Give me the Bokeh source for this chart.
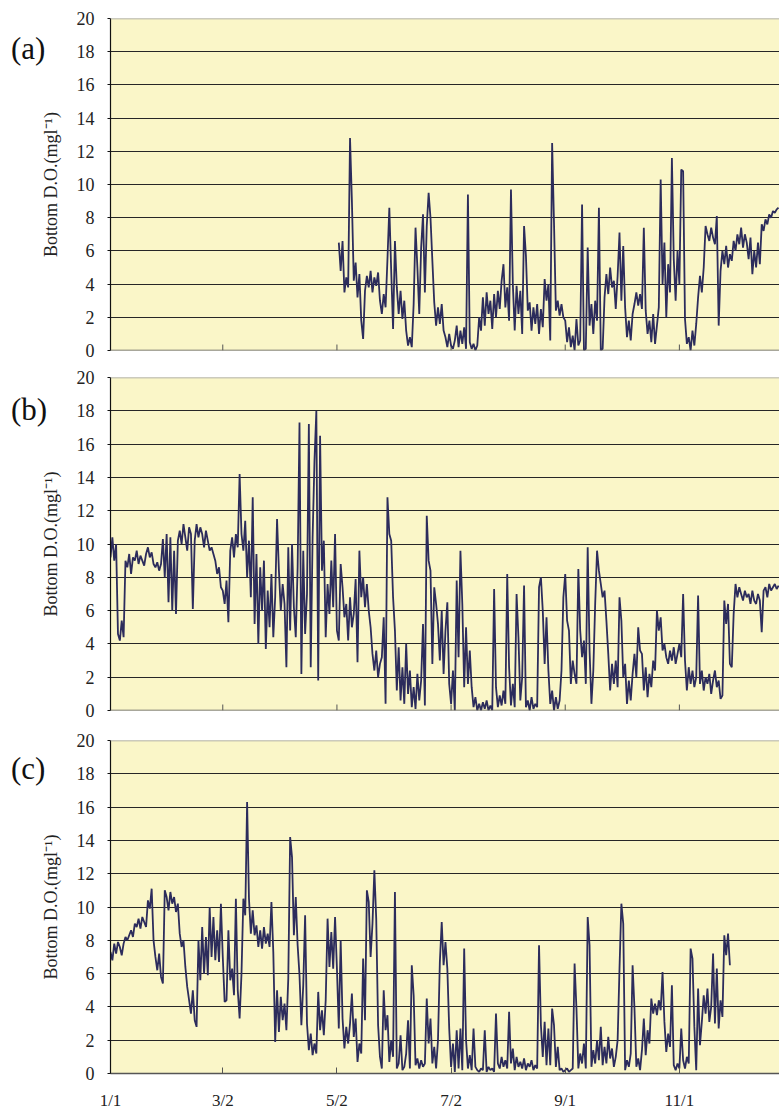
from bokeh.plotting import figure
from bokeh.layouts import column, row
from bokeh.models import FixedTicker, Span, Range1d, Div
from bokeh.embed import file_html
from bokeh.resources import INLINE

# ---- data (day of year, 0 = 1 Jan) ----
tick_days = [0, 60, 121, 182, 243, 304]
tick_labels = ["1/1", "3/2", "5/2", "7/2", "9/1", "11/1"]
y_ticks = [0, 2, 4, 6, 8, 10, 12, 14, 16, 18, 20]
panel_names = ["(a)", "(b)", "(c)"]
y_label = "Bottom D.O.(mgl\u207b\u00b9)"

start_a = 122
do_a = [
    6.5, 4.8, 6.6, 3.5, 4.4, 3.8, 12.8, 9.0, 4.2, 5.3,
    3.2, 4.6, 1.8, 0.7, 3.6, 4.5, 3.8, 4.8, 3.5, 4.4,
    3.9, 4.7, 3.0, 2.2, 3.4, 2.6, 5.5, 8.6, 4.8, 1.3,
    6.6, 3.8, 2.2, 3.6, 1.9, 3.0, 1.2, 0.3, 0.8, 0.2,
    2.8, 7.4, 5.0, 2.2, 6.2, 8.2, 3.5, 7.5, 9.5, 8.0,
    5.4, 2.9, 1.5, 2.6, 1.6, 2.8, 1.2, 0.8, 0.2, 1.0,
    0.3, 0.1, 0.6, 1.5, 0.2, 1.2, 0.4, 1.4, 0.1, 9.4,
    0.5, 0.1, 0.4, 0.0, 0.3, 2.0, 1.2, 3.2, 1.5, 3.5,
    2.2, 3.0, 1.3, 3.4, 2.0, 3.6, 2.5, 4.2, 5.2, 2.6,
    3.8, 1.8, 9.7, 4.0, 1.2, 3.9, 2.2, 3.6, 1.0, 7.5,
    5.7, 2.4, 2.9, 1.2, 2.6, 1.6, 2.8, 1.0, 2.5, 1.4,
    4.3, 3.0, 4.0, 0.6, 12.5, 7.7, 2.4, 3.0, 2.1, 2.8,
    2.0, 1.8, 0.5, 1.4, 0.2, 0.9, 0.0, 1.9, 0.3, 0.6,
    8.8, 0.0, 0.1, 6.2, 1.5, 2.8, 1.0, 3.0, 1.8, 8.6,
    0.0, 0.1, 3.2, 4.6, 3.4, 5.0, 3.8, 4.2, 2.5, 4.5,
    7.1, 3.0, 6.3, 2.6, 0.8, 1.8, 0.6, 2.2, 2.8, 3.5,
    2.7, 3.4, 2.5, 7.4, 2.4, 1.0, 1.8, 0.5, 2.2, 0.4,
    1.5, 2.6, 10.3, 4.0, 6.5, 2.0, 5.2, 3.5, 11.6, 5.5,
    3.0, 6.0, 4.0, 10.9, 10.8, 1.9, 0.4, 0.8, 0.0, 1.2,
    0.3, 1.6, 3.2, 4.5, 3.5, 5.0, 7.5, 7.0, 6.6, 7.4,
    6.8, 6.4, 8.1, 1.5, 4.8, 6.0, 5.2, 6.3, 5.0, 5.8,
    5.4, 6.6, 6.0, 7.0, 6.4, 7.4, 6.2, 7.0, 6.5, 5.5,
    6.8, 4.6, 6.0, 5.0, 6.5, 5.2, 7.6, 7.2, 7.9, 7.6,
    8.2, 8.0, 8.4, 8.3, 8.5, 8.6,
]

start_b = 0
do_b = [
    9.2, 10.4, 9.0, 10.0, 4.6, 4.2, 5.4, 4.4, 9.0, 8.6,
    9.4, 8.2, 9.2, 9.0, 9.6, 8.8, 9.3, 9.0, 8.7, 9.4,
    9.8, 9.2, 9.5, 8.8, 8.6, 8.9, 8.4, 8.8, 10.3, 8.0,
    10.6, 6.5, 10.4, 6.0, 9.6, 5.8, 10.2, 10.8, 10.0, 11.2,
    10.4, 9.6, 11.0, 10.6, 6.1, 10.2, 11.2, 10.4, 11.0, 10.6,
    9.8, 10.8, 10.2, 9.6, 9.8, 9.4, 9.0, 8.2, 8.6, 7.4,
    7.2, 6.4, 7.8, 5.3, 9.6, 10.4, 9.2, 10.6, 9.8, 14.2,
    10.6, 9.6, 11.4, 8.0, 10.2, 6.8, 12.8, 5.2, 9.4, 4.0,
    8.6, 6.0, 9.0, 3.7, 7.2, 5.0, 8.2, 4.4, 6.8, 11.5,
    8.4, 6.0, 7.6, 6.4, 2.6, 9.8, 4.8, 10.0, 6.2, 4.4,
    8.6, 17.3, 2.2, 9.6, 4.6, 7.0, 17.2, 2.6, 10.4, 15.0,
    18.0, 1.8, 16.5, 8.4, 10.2, 4.4, 7.6, 5.8, 9.0, 6.2,
    10.6, 4.8, 4.2, 8.8, 7.4, 5.6, 6.4, 4.2, 6.8, 5.0,
    5.8, 7.9, 2.9, 9.6, 6.8, 8.0, 6.2, 7.6, 6.0, 5.0,
    3.4, 2.4, 3.6, 2.0, 2.8, 3.2, 5.6, 0.4, 12.8, 10.6,
    10.2, 6.8, 4.8, 1.2, 3.8, 0.6, 2.6, 0.4, 4.0, 1.0,
    2.4, 0.2, 1.4, 0.1, 2.2, 0.6, 1.8, 5.2, 0.3, 11.7,
    9.0, 8.4, 2.8, 7.4, 6.4, 5.2, 3.0, 6.0, 2.2, 4.8,
    6.5, 1.6, 0.4, 2.4, 0.0, 7.8, 3.2, 9.6, 6.4, 1.4,
    5.0, 1.6, 3.6, 1.4, 0.2, 0.8, 0.0, 0.4, 0.0, 0.5,
    0.1, 0.6, 0.0, 0.3, 0.0, 7.3, 1.4, 0.2, 0.9, 0.3,
    1.2, 0.4, 8.2, 2.6, 0.3, 1.6, 0.2, 7.0, 4.4, 0.6,
    2.0, 7.5, 0.2, 0.6, 0.0, 0.8, 0.1, 0.4, 0.2, 7.4,
    8.0, 6.0, 2.8, 5.6, 2.4, 0.4, 1.2, 0.0, 0.8, 0.1,
    0.6, 2.4, 6.8, 8.2, 5.4, 4.8, 1.6, 3.0, 2.2, 1.6,
    8.5, 4.8, 3.2, 4.2, 1.6, 9.8, 3.6, 0.4, 2.4, 6.4,
    9.6, 8.4, 7.6, 6.8, 7.2, 5.4, 3.4, 1.2, 2.8, 1.6,
    3.0, 1.4, 6.8, 5.4, 2.0, 2.8, 0.4, 1.8, 0.6, 2.2,
    3.4, 2.0, 5.0, 3.6, 3.4, 1.2, 2.6, 0.8, 2.2, 1.4,
    3.0, 2.4, 6.0, 4.8, 5.6, 3.6, 4.0, 3.2, 2.8, 3.6,
    3.0, 3.8, 2.8, 3.4, 4.0, 3.2, 7.0, 3.0, 1.2, 2.6,
    1.6, 2.4, 1.4, 2.0, 6.9, 1.6, 2.4, 1.2, 2.0, 1.6,
    2.2, 1.0, 1.8, 2.4, 1.4, 1.8, 0.7, 0.9, 6.6, 5.2,
    6.4, 2.8, 2.6, 5.8, 7.6, 6.8, 7.4, 7.0, 6.6, 7.2,
    6.8, 7.0, 6.4, 7.2, 6.6, 6.4, 7.0, 6.6, 4.7, 7.2,
    7.4, 6.8, 7.6, 7.2, 7.4, 7.6, 7.3, 7.5,
]

start_c = 0
do_c = [
    7.3, 6.8, 7.8, 7.2, 7.9, 7.6, 7.1, 7.8, 8.2, 8.0,
    8.3, 8.6, 8.2, 9.0, 8.8, 9.3, 8.7, 9.4, 9.1, 8.8,
    10.4, 9.9, 11.1, 8.0, 7.0, 6.2, 7.2, 5.8, 5.4, 11.0,
    10.6, 9.8, 10.9, 10.2, 10.6, 9.7, 10.2, 8.4, 7.6, 8.0,
    6.4, 5.2, 4.4, 3.6, 5.0, 3.2, 2.8, 8.0, 5.6, 8.8,
    6.0, 8.2, 5.9, 10.0, 7.0, 9.4, 6.8, 8.6, 6.7, 10.2,
    7.0, 4.3, 4.4, 8.6, 5.6, 6.3, 4.7, 10.5, 5.0, 3.3,
    6.0, 10.5, 9.5, 16.3, 10.5, 8.4, 9.8, 8.3, 8.9, 7.6,
    8.6, 7.5, 8.8, 7.8, 8.4, 7.6, 10.3, 7.3, 1.9, 5.0,
    2.5, 4.6, 3.2, 4.2, 2.6, 5.7, 14.2, 13.0, 8.3, 10.6,
    7.7, 5.9, 2.9, 5.3, 9.5, 3.0, 1.4, 2.4, 1.1, 1.8,
    1.2, 4.9, 2.6, 3.8, 2.3, 4.4, 9.3, 6.4, 8.5, 6.3,
    9.4, 6.3, 2.7, 8.0, 3.3, 1.5, 2.8, 1.8, 3.0, 4.8,
    2.2, 3.3, 0.7, 1.8, 1.2, 6.9, 3.2, 11.0, 10.3, 7.0,
    9.0, 12.2, 9.3, 2.9, 1.0, 0.3, 5.0, 2.6, 3.5, 0.7,
    2.0, 1.0, 10.9, 0.3, 0.6, 2.3, 0.2, 0.4, 1.2, 3.2,
    0.3, 6.5, 4.7, 0.5, 0.9, 0.3, 0.8, 0.4, 0.6, 4.5,
    1.8, 3.3, 0.6, 1.6, 0.3, 2.0, 6.7, 9.1, 6.5, 7.9,
    6.3, 2.7, 0.4, 1.8, 0.1, 2.6, 0.3, 2.7, 0.2, 7.5,
    2.0, 0.3, 1.1, 0.2, 2.7, 0.4, 0.2, 0.1, 0.3, 0.2,
    2.6, 0.1, 0.4, 0.2, 0.3, 0.1, 3.6, 0.6, 0.3, 1.0,
    0.4, 0.8, 0.3, 3.7, 0.6, 1.5, 0.2, 1.0, 0.4, 0.7,
    0.3, 0.9, 0.2, 0.6, 0.4, 0.8, 0.2, 0.5, 0.3, 7.7,
    2.9, 1.0, 3.1, 0.5, 2.7, 0.5, 3.9, 2.9, 0.4, 1.6,
    0.2, 0.3, 0.1, 0.2, 0.3, 0.1, 0.2, 0.3, 6.6, 3.9,
    0.3, 1.2, 0.6, 1.8, 0.3, 9.4, 7.7, 0.4, 1.4, 0.6,
    2.0, 0.8, 2.8, 0.5, 1.6, 0.6, 2.2, 0.9, 1.5, 0.4,
    1.0, 2.0, 6.3, 10.2, 9.0, 0.2, 0.8, 0.4, 1.2, 6.5,
    3.9, 0.4, 0.9, 0.2, 1.4, 3.3, 1.1, 2.6, 1.8, 4.5,
    3.6, 4.2, 3.5, 4.4, 3.8, 6.1, 3.1, 1.3, 2.4, 1.6,
    5.3, 0.5, 0.2, 0.6, 0.3, 2.7, 0.8, 0.3, 1.0, 0.6,
    7.5, 6.9, 2.8, 0.2, 5.1, 1.7, 3.1, 4.7, 3.6, 5.1,
    3.1, 4.0, 7.2, 3.0, 6.3, 2.7, 4.4, 3.4, 8.3, 7.1,
    8.4, 6.5,
]

# ---- styling ----
FONT = "Liberation Serif"
BG = "#faf6c8"
LINE = "#2c2c5c"
X_END = 357.5
DIV_W = 37
FIG_W = 742


def make_panel(start, vals, name, pad_top, height, top, bottom, show_x):
    p = figure(width=FIG_W, height=height, output_backend="svg",
               toolbar_location=None, title=None,
               x_range=Range1d(0, X_END), y_range=Range1d(0, 20),
               min_border_left=68, min_border_right=0,
               min_border_top=top, min_border_bottom=bottom)
    p.background_fill_color = BG
    p.border_fill_color = None
    p.outline_line_color = None

    p.xgrid.visible = False
    p.ygrid.ticker = FixedTicker(ticks=y_ticks[1:-1])
    p.ygrid.grid_line_color = "#262626"
    p.ygrid.grid_line_width = 1

    p.add_layout(Span(location=20, dimension="width",
                      line_color="#9a9a9a", line_width=1.5))

    ya = p.yaxis[0]
    ya.ticker = FixedTicker(ticks=y_ticks)
    ya.axis_line_color = "#111111"
    ya.axis_line_width = 1.2
    ya.major_tick_line_color = "#111111"
    ya.major_tick_out = 3
    ya.major_tick_in = 0
    ya.minor_tick_line_color = None
    ya.major_label_text_font = FONT
    ya.major_label_text_font_size = "18px"
    ya.major_label_text_color = "#222222"
    ya.major_label_standoff = 13
    ya.axis_label = y_label
    ya.axis_label_text_font = FONT
    ya.axis_label_text_font_size = "18px"
    ya.axis_label_text_font_style = "normal"
    ya.axis_label_text_color = "#222222"
    ya.axis_label_standoff = 13

    xa = p.xaxis[0]
    if show_x:
        xa.ticker = FixedTicker(ticks=tick_days)
        xa.major_label_overrides = {d: t for d, t in zip(tick_days, tick_labels)}
        xa.axis_line_color = "#555555"
        xa.axis_line_width = 1.5
        xa.major_tick_line_color = "#555555"
        xa.major_tick_in = 6
        xa.major_tick_out = 0
        xa.minor_tick_line_color = None
        xa.major_label_text_font = FONT
        xa.major_label_text_color = "#222222"
        xa.major_label_text_font_size = "17px"
        xa.major_label_standoff = 17
    else:
        xa.visible = False
        p.add_layout(Span(location=0, dimension="width",
                          line_color="#555555", line_width=1.5))
        p.segment(x0=tick_days, y0=[0] * len(tick_days),
                  x1=tick_days, y1=[0.36] * len(tick_days),
                  line_color="#555555", line_width=1)

    days = [start + i for i in range(len(vals))]
    p.line(days, vals, line_color=LINE, line_width=1.8)

    inner = (f'<div style="position:absolute; left:11px; top:{pad_top}px; '
             f'font-family:{FONT}; font-size:31px; line-height:36px; '
             f'color:#111111; white-space:nowrap;">{name}</div>')
    div = Div(text=inner, width=DIV_W, height=height, margin=(0, 0, 0, 0),
              styles={"overflow": "visible"})
    return row(div, p, spacing=0)


ra = make_panel(start_a, do_a, panel_names[0], 31, 365, 18, 15, False)
rb = make_panel(start_b, do_b, panel_names[1], 27, 362, 12, 17, False)
rc = make_panel(start_c, do_c, panel_names[2], 24, 386, 13, 40, True)

layout = column(ra, rb, rc, spacing=0)
open("out.html", "w").write(file_html(layout, INLINE))
